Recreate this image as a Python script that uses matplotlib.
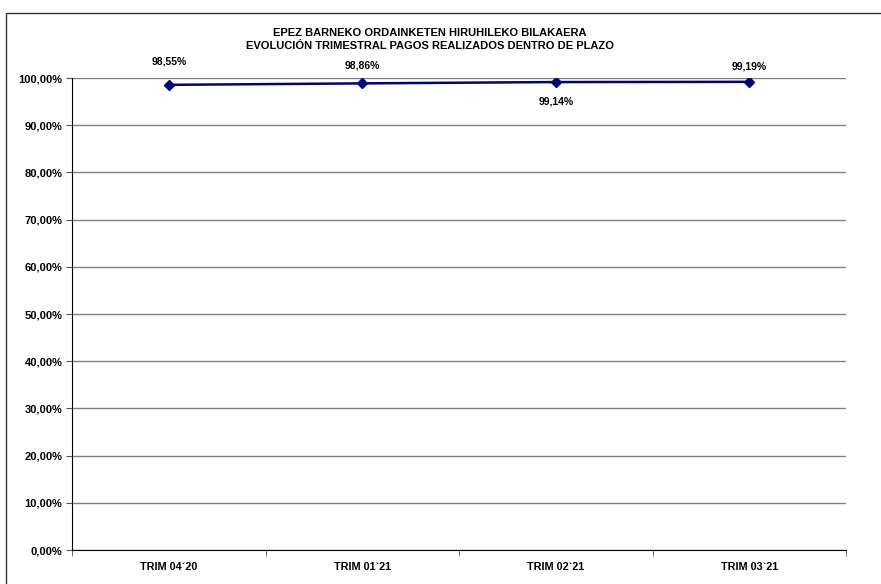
import matplotlib
matplotlib.use("Agg")
import matplotlib.pyplot as plt
from matplotlib.patches import Rectangle
from matplotlib.ticker import FixedLocator

categories = ["TRIM 04´20", "TRIM 01`21", "TRIM 02`21", "TRIM 03`21"]
values = [98.55, 98.86, 99.14, 99.19]
labels = ["98,55%", "98,86%", "99,14%", "99,19%"]
label_offsets = [17, 13, -14, 11]  # points, styling only
yticks = list(range(0, 101, 10))
ytick_labels = ["%d,00%%" % v for v in yticks]

plt.rcParams['font.family'] = ['Liberation Sans', 'DejaVu Sans']

fig = plt.figure(figsize=(8.81, 5.84), dpi=100)
fig.patches.append(Rectangle((6/881, -0.1), 1.0, 1 - 12.5/584 + 0.1, transform=fig.transFigure,
                             fill=False, edgecolor='#333333', linewidth=1.0))

ax = fig.add_axes([72/881, 1 - 550/584, (846 - 72)/881, (550 - 78)/584])
x = list(range(len(categories)))
ax.plot(x, values, color='#000080', linewidth=1.8, marker='D', markersize=5,
        markerfacecolor='#000080', markeredgecolor='#000080', zorder=3)
for xi, v, lab, off in zip(x, values, labels, label_offsets):
    ax.annotate(lab, (xi, v), xytext=(0, off), textcoords='offset points',
                ha='center', va='center', fontsize=7.5, fontweight='bold')

ax.set_xlim(-0.5, len(categories) - 0.5)
ax.set_ylim(0, 100)
ax.set_yticks(yticks)
ax.set_yticklabels(ytick_labels, fontsize=8, fontweight='bold')
ax.set_xticks(x)
ax.set_xticklabels(categories, fontsize=7.8, fontweight='bold')
ax.tick_params(axis='x', which='major', length=0, pad=9)
ax.xaxis.set_minor_locator(FixedLocator([i - 0.5 for i in range(len(categories) + 1)]))
ax.tick_params(axis='x', which='minor', length=4, direction='out', color='#555555')
ax.tick_params(axis='y', length=4, direction='out', color='#555555', pad=3)
ax.yaxis.grid(True, color='#808080', linewidth=1)
ax.set_axisbelow(True)
for s in ['top', 'right']:
    ax.spines[s].set_visible(False)
ax.spines['left'].set_color('black')
ax.spines['bottom'].set_color('black')

fig.text(430/881, 1 - 39.5/584,
         "EPEZ BARNEKO ORDAINKETEN HIRUHILEKO BILAKAERA\nEVOLUCIÓN TRIMESTRAL PAGOS REALIZADOS DENTRO DE PLAZO",
         ha='center', va='center', fontsize=8, fontweight='bold', linespacing=1.35)

fig.savefig("out.png", dpi=100)
